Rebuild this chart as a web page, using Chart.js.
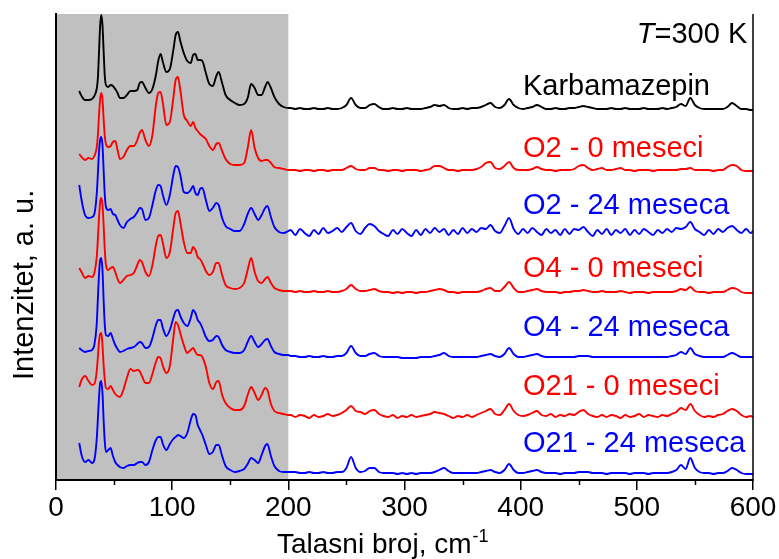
<!DOCTYPE html>
<html><head><meta charset="utf-8">
<script src="https://cdn.jsdelivr.net/npm/chart.js@4.4.1/dist/chart.umd.min.js"></script>
<style>html,body{margin:0;padding:0;background:#fff}canvas{display:block}</style>
</head><body>
<canvas id="c" width="779" height="559"></canvas>
<script>
// Raman shift (wavenumber, cm-1)
const wavenumbers = [
20,22,25,28,31,33,35,36,37,38,39,40,
41,42,43,45,47,49,51,53,55,58,61,64,
67,70,72,74,77,80,83,86,88,90,92,95,
98,101,103,105,107,110,113,116,118,120,122,124,
126,129,132,135,138,140,143,146,150,154,158,162,
165,168,171,174,177,180,182,185,188,192,196,200,
202,206,210,214,218,222,226,230,234,238,
242,246,250,254,258,262,266,270,274,278,
282,286,290,294,298,302,306,310,314,318,
322,326,330,334,338,342,346,350,354,358,
362,366,370,374,378,382,386,390,394,398,
402,406,410,414,418,422,426,430,434,438,
442,446,450,454,458,462,466,470,474,478,
482,486,490,494,498,502,506,510,514,518,
522,526,530,534,538,542,546,550,554,558,
562,566,570,574,578,582,586,590,594,598,
600];

// Intensities (a.u., stacked)
const karbamazepin = [
390,385,381,381,382,385,392,402,428,455,466,456,
430,405,396,394,396,395,392,388,383,383,386,390,
390,391,398,399,393,388,392,406,420,427,419,409,
412,431,446,449,440,428,420,418,426,427,421,421,
420,408,397,395,405,409,398,386,381,378,376,377,
383,397,393,386,386,394,399,393,384,377,374,373,
373,372,373,372,372,373,372,372,373,372,
372,373,376,383,376,373,373,376,377,374,
372,372,373,372,372,373,372,372,372,373,
374,376,375,376,373,372,372,373,372,373,
373,374,376,378,374,373,376,382,376,373,
372,373,374,376,374,372,372,373,372,372,
373,373,374,375,374,373,372,372,372,373,
372,372,373,372,372,372,373,372,372,372,
373,372,373,374,377,375,383,376,373,372,
372,372,372,372,374,378,375,372,372,371,
371];

const o2_0 = [
327,324,321,323,322,325,333,345,365,382,388,382,
362,345,337,334,335,339,340,331,322,324,331,335,
335,341,348,351,341,335,346,376,388,389,378,356,
359,383,401,404,391,366,360,355,359,353,350,347,
345,342,335,331,337,338,330,322,317,316,316,318,
333,351,333,323,320,321,321,318,314,313,312,311,
311,311,310,311,311,310,311,311,310,311,
311,311,313,315,312,311,311,313,313,311,
311,310,311,311,310,311,311,311,310,311,
312,315,315,313,311,311,310,311,311,311,
312,314,318,319,313,312,315,319,313,311,
311,311,312,314,312,311,311,310,311,311,
311,312,315,316,313,311,312,313,311,311,
312,313,311,311,310,311,311,311,310,311,
311,311,311,311,312,312,313,311,311,311,
311,310,311,311,314,316,315,311,310,310,
310];

const o2_24 = [
296,281,266,263,264,267,286,306,329,341,344,336,
311,286,274,271,272,267,266,261,256,253,259,262,
264,269,273,272,261,263,276,291,296,295,286,276,
286,306,315,314,306,289,288,291,295,288,286,292,
293,281,270,273,278,276,263,255,252,250,250,257,
267,273,267,261,266,273,275,264,254,249,248,250,
251,246,252,248,245,251,247,253,248,250,
253,249,254,258,250,247,253,257,255,250,
247,245,251,247,252,248,245,251,246,252,
248,253,249,252,246,251,247,253,248,252,
249,253,252,256,250,248,255,263,252,247,
252,248,253,249,246,252,248,251,246,252,
247,252,251,254,249,245,251,247,252,246,
251,248,252,246,251,247,252,249,246,251,
248,252,249,253,252,254,259,252,249,246,
251,247,252,249,253,255,251,248,252,248,
250];

const o4_0 = [
213,209,203,205,204,208,223,241,263,279,283,276,
256,231,216,211,213,214,209,202,198,201,205,206,
208,216,221,219,209,205,216,236,245,246,238,223,
229,253,268,270,259,239,228,228,234,231,224,222,
218,210,206,209,218,218,206,196,193,192,193,198,
211,223,209,200,198,202,204,198,193,191,190,190,
190,189,190,189,189,190,189,189,190,189,
189,190,192,196,192,190,190,191,192,190,
189,189,188,189,188,189,189,188,189,189,
190,191,192,191,189,189,188,189,189,189,
189,190,192,193,190,190,194,199,193,189,
189,190,191,192,190,189,189,189,188,189,
189,190,190,191,190,189,189,190,189,189,
189,190,189,188,189,189,189,188,189,189,
189,189,189,190,192,191,194,190,189,189,
188,189,189,189,191,193,192,189,188,188,
188];

const o4_24 = [
133,131,129,130,131,136,156,181,206,221,223,211,
181,156,146,145,148,142,136,132,129,130,132,133,
134,137,139,138,133,134,143,156,161,161,153,145,
151,163,170,171,165,158,155,163,171,168,161,158,
153,144,140,141,145,144,136,131,129,128,128,131,
139,145,139,134,137,141,142,135,129,127,126,126,
125,125,124,124,125,124,124,125,124,124,
125,125,128,135,128,125,125,127,128,125,
124,124,124,124,123,123,123,123,124,124,
124,125,126,128,125,124,124,124,124,124,
124,125,126,127,125,124,127,133,127,124,
124,125,126,127,125,124,124,124,124,124,
124,124,125,125,125,124,124,124,124,124,
124,124,124,124,124,124,124,124,124,124,
124,124,125,126,129,127,133,127,125,124,
124,124,124,124,126,128,126,124,124,124,
124];

const o21_0 = [
94,101,105,100,96,97,109,123,139,147,148,136,
116,101,93,92,95,91,87,85,84,91,103,112,
110,111,110,105,98,98,107,119,124,123,115,108,
115,143,159,156,148,136,128,131,133,129,126,126,
124,114,98,92,99,100,86,78,73,71,71,75,
86,94,88,81,86,93,91,77,70,68,67,66,
66,64,66,65,63,66,64,65,67,65,
66,68,71,75,70,69,67,70,71,67,
65,64,66,63,65,64,66,64,65,66,
67,69,68,67,65,63,65,64,66,64,
66,68,70,72,67,66,71,77,70,66,
65,66,68,70,66,65,67,64,66,65,
67,66,69,71,67,65,64,66,64,66,
65,63,66,64,65,67,64,66,65,64,
66,65,67,69,73,71,77,70,66,64,
65,64,66,67,70,72,70,66,64,65,
64];

const o21_24 = [
38,26,19,21,18,21,41,61,83,98,100,88,
61,39,29,31,33,25,19,16,14,13,15,16,
16,18,19,19,16,19,31,41,44,44,37,31,
37,42,44,46,45,43,48,61,67,66,56,51,
46,36,27,29,36,36,25,15,11,9,10,12,
17,23,21,18,26,35,37,25,15,10,9,9,
9,9,8,8,9,8,8,9,8,8,
9,9,13,24,13,9,10,13,13,9,
8,8,8,7,8,7,8,7,8,8,
8,9,11,13,10,8,8,8,8,8,
8,9,10,11,9,8,11,17,11,8,
8,9,10,11,9,8,8,8,7,8,
8,8,9,9,9,8,8,8,7,8,
8,8,8,7,8,8,8,7,8,8,
8,8,9,11,16,12,23,13,9,8,
8,7,8,8,10,13,11,8,7,7,
7];

const seriesNames = ['Karbamazepin','O2 - 0 meseci','O2 - 24 meseca','O4 - 0 meseci','O4 - 24 meseca','O21 - 0 meseci','O21 - 24 meseca'];
const seriesValues = [karbamazepin, o2_0, o2_24, o4_0, o4_24, o21_0, o21_24];
const xTickValues = [0,100,200,300,400,500,600];
const xMinorTicks = [50,150,250,350,450,550];
const shadedRange = [0,200];

// styles / positions (not data)
const seriesColors = ['#000000','#ff0000','#0000ff','#ff0000','#0000ff','#ff0000','#0000ff'];
const labelAnchors = [[402,386],[402,324],[402,267],[402,204],[402,145],[402,86],[402,29]];
const tempAnchor = [500,438];
const FONT = "'Liberation Sans', Arial, Helvetica, sans-serif";

const bad = seriesValues.map((s,i)=>s.length!==wavenumbers.length ? seriesNames[i]+':'+s.length : null).filter(Boolean);
if (bad.length) console.error('length mismatch (' + wavenumbers.length + '): ' + bad.join(', '));

const datasets = seriesValues.map((vals,i)=>({
  label: seriesNames[i],
  data: wavenumbers.map((w,j)=>({x:w, y:vals[j]})),
  borderColor: seriesColors[i],
  backgroundColor: seriesColors[i],
  borderWidth: 1.9,
  pointRadius: 0,
  fill: false,
  cubicInterpolationMode: 'monotone'
}));

const shadePlugin = {
  id: 'shade',
  beforeDraw(chart){
    const {ctx, chartArea:a, scales:{x}} = chart;
    const x0 = x.getPixelForValue(shadedRange[0]), x1 = x.getPixelForValue(shadedRange[1]);
    ctx.save();
    ctx.fillStyle = '#c0c0c0';
    ctx.fillRect(x0, a.top, x1-x0, a.bottom-a.top);
    ctx.restore();
  }
};

const decorPlugin = {
  id: 'decor',
  afterDraw(chart){
    const {ctx, chartArea:a, scales:{x, y}} = chart;
    ctx.save();
    ctx.strokeStyle = '#000';
    // right frame line
    ctx.lineWidth = 1.5;
    ctx.beginPath(); ctx.moveTo(a.right, a.top); ctx.lineTo(a.right, a.bottom + 1); ctx.stroke();
    // minor ticks
    xMinorTicks.forEach(v=>{
      const px = Math.round(x.getPixelForValue(v)) + 0.5;
      ctx.beginPath(); ctx.moveTo(px, a.bottom); ctx.lineTo(px, a.bottom + 5); ctx.stroke();
    });
    // series labels
    ctx.font = '29px ' + FONT;
    ctx.textAlign = 'left';
    ctx.textBaseline = 'alphabetic';
    seriesNames.forEach((n,i)=>{
      ctx.fillStyle = seriesColors[i];
      ctx.fillText(n, x.getPixelForValue(labelAnchors[i][0]), y.getPixelForValue(labelAnchors[i][1]));
    });
    // T=300 K
    ctx.fillStyle = '#000';
    let tx = x.getPixelForValue(tempAnchor[0]);
    const ty = y.getPixelForValue(tempAnchor[1]);
    ctx.font = 'italic 29px ' + FONT;
    ctx.fillText('T', tx, ty);
    tx += ctx.measureText('T').width;
    ctx.font = '29px ' + FONT;
    ctx.fillText('=300 K', tx, ty);
    // x title with superscript
    ctx.font = '28px ' + FONT;
    let ttx = 277;
    ctx.fillText('Talasni broj, cm', ttx, 553);
    ttx += ctx.measureText('Talasni broj, cm').width + 1;
    ctx.font = '18px ' + FONT;
    ctx.fillText('-1', ttx, 542);
    // y title
    ctx.translate(33, 380);
    ctx.rotate(-Math.PI/2);
    ctx.font = '29px ' + FONT;
    ctx.fillText('Intenzitet, a. u.', 0, 0);
    ctx.restore();
  }
};

Chart.defaults.font.family = FONT;
new Chart(document.getElementById('c'), {
  type: 'line',
  data: { datasets },
  options: {
    responsive: false,
    devicePixelRatio: 1,
    animation: false,
    events: [],
    layout: { padding: { top: 14, right: 26, left: 0, bottom: 0 } },
    plugins: { legend: { display: false }, tooltip: { enabled: false }, title: { display: false } },
    scales: {
      x: {
        type: 'linear',
        min: 0, max: 600,
        afterFit(s){ s.height = 79; },
        afterBuildTicks(s){ s.ticks = xTickValues.map(v=>({value:v})); },
        ticks: { font: { size: 28, family: FONT }, color: '#000', padding: 1, maxRotation: 0, autoSkip: false },
        grid: { display: true, drawOnChartArea: false, drawTicks: true, tickLength: 10, tickWidth: 1.5, tickColor: '#000', lineWidth: 1.5, color: '#000' },
        border: { display: true, color: '#000', width: 2 }
      },
      y: {
        type: 'linear',
        min: 1, max: 467,
        afterFit(s){ s.width = 56; },
        ticks: { display: false },
        grid: { display: false, drawTicks: false },
        border: { display: true, color: '#000', width: 2 }
      }
    }
  },
  plugins: [shadePlugin, decorPlugin]
});
</script>
</body></html>
